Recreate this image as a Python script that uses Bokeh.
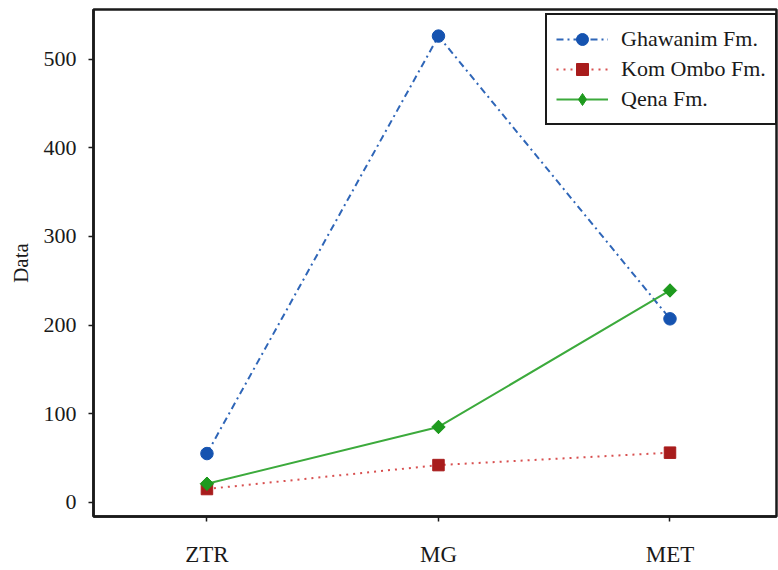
import math
from bokeh.plotting import figure
from bokeh.models import FixedTicker, Range1d, Legend, LegendItem
from bokeh.embed import file_html
from bokeh.resources import INLINE

categories = ["ZTR", "MG", "MET"]
ghawanim = [55, 526, 207]
kom_ombo = [15, 42, 56]
qena = [21, 85, 239]
y_ticks = [0, 100, 200, 300, 400, 500]

FONT = "Liberation Serif"
xs = list(range(len(categories)))

p = figure(width=778, height=570, output_backend="svg", toolbar_location=None,
           x_range=Range1d(-0.49, 2.46), y_range=Range1d(-16, 556),
           min_border_left=93, min_border_top=9, min_border_bottom=54, min_border_right=2)

p.background_fill_color = "white"
p.border_fill_color = "white"
p.outline_line_color = "#1a1a1a"
p.outline_line_width = 2.5
p.outline_line_alpha = 1
p.xgrid.visible = False
p.ygrid.visible = False

g_line = p.line(xs, ghawanim, line_color="#2f66b8", line_width=2, line_dash="7 4 2 4")
g_mark = p.scatter(xs, ghawanim, marker="circle", size=12.5, fill_color="#1553b0", line_color="#1553b0")
k_line = p.line(xs, kom_ombo, line_color="#d85050", line_width=2, line_dash="2 5")
k_mark = p.scatter(xs, kom_ombo, marker="square", size=11.5, fill_color="#a81c1c", line_color="#a81c1c")
q_line = p.line(xs, qena, line_color="#3caa3c", line_width=2)
# diamond marker (used as legend key), drawn under the wider rotated-square marker
q_key = p.scatter(xs, qena, marker="diamond", size=13, fill_color="#1e9a1e", line_color="#1e9a1e")
q_mark = p.scatter(xs, qena, marker="square", size=9.5, angle=math.pi / 4,
                   fill_color="#1e9a1e", line_color="#1e9a1e")

legend = Legend(items=[
    LegendItem(label="Ghawanim Fm.", renderers=[g_line, g_mark]),
    LegendItem(label="Kom Ombo Fm.", renderers=[k_line, k_mark]),
    LegendItem(label="Qena Fm.", renderers=[q_line, q_key]),
], location=(452, 391))
legend.label_text_font = FONT
legend.label_text_font_size = "22px"
legend.label_text_color = "#1a1a1a"
legend.glyph_width = 52
legend.glyph_height = 30
legend.label_height = 30
legend.label_standoff = 13
legend.spacing = 0
legend.padding = 9
legend.border_line_color = "#1a1a1a"
legend.border_line_alpha = 1
legend.border_line_width = 2.5
legend.background_fill_alpha = 1
p.add_layout(legend)

p.xaxis.ticker = FixedTicker(ticks=xs)
p.xaxis.major_label_overrides = {i: c for i, c in enumerate(categories)}
p.yaxis.ticker = FixedTicker(ticks=y_ticks)
for ax in (p.xaxis[0], p.yaxis[0]):
    ax.axis_line_color = "#1a1a1a"
    ax.axis_line_width = 2.5
    ax.major_tick_line_color = "#1a1a1a"
    ax.major_tick_line_width = 1.5
    ax.major_tick_out = 5
    ax.major_tick_in = 0
    ax.minor_tick_line_color = None
    ax.major_label_text_font = FONT
    ax.major_label_text_color = "#1a1a1a"
p.xaxis.major_label_text_font_size = "23px"
p.yaxis.major_label_text_font_size = "22px"
p.xaxis.major_label_standoff = 20
p.yaxis.major_label_standoff = 12
p.yaxis.axis_label = "Data"
p.yaxis.axis_label_text_font = FONT
p.yaxis.axis_label_text_font_size = "21px"
p.yaxis.axis_label_text_font_style = "normal"
p.yaxis.axis_label_text_color = "#1a1a1a"
p.yaxis.axis_label_standoff = 8

open("out.html", "w").write(file_html(p, INLINE))
